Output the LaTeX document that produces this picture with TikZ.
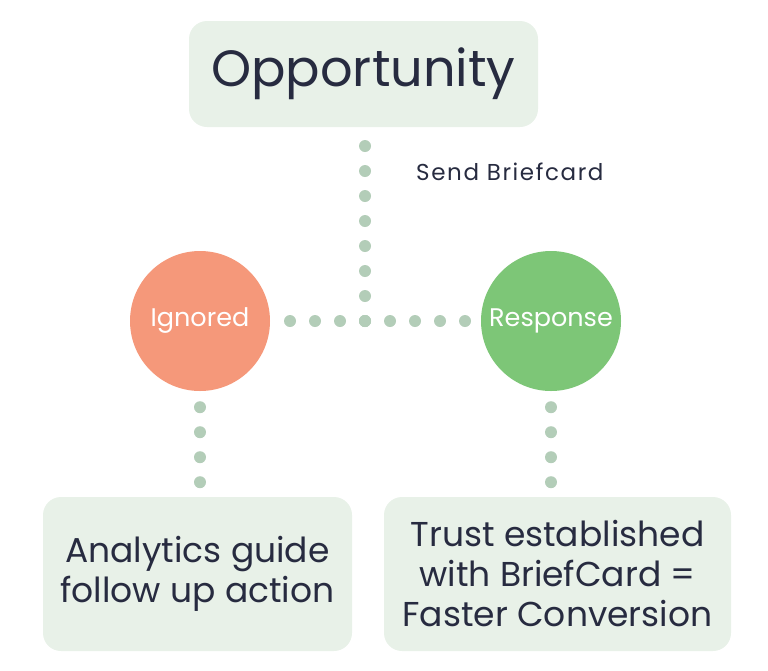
\documentclass[tikz,border=0pt]{standalone}
\usepackage{fontspec}
\setmainfont{Poppins}
\newfontfamily\trackedfont[LetterSpace=7]{Poppins}
\usepackage{tikz}

\definecolor{boxfill}{HTML}{E8F1E8}
\definecolor{inkdark}{HTML}{272B40}
\definecolor{dotgreen}{HTML}{B3CDB8}
\definecolor{ignoredfill}{HTML}{F5987A}
\definecolor{responsefill}{HTML}{7DC677}

\tikzset{
  card/.style={fill=boxfill, rounded corners=18pt, text=inkdark, align=center, inner sep=0pt},
  state/.style={circle, minimum size=140pt, inner sep=0pt, text=white, font=\fontsize{25.5}{30}\selectfont},
  dots/.style={draw=dotgreen, line width=12pt, line cap=round, dash pattern=on 0pt off 25pt}
}

\begin{document}
\begin{tikzpicture}[x=1pt,y=-1pt]
  \useasboundingbox (0,0) rectangle (768,670);

  \node[card, minimum width=349pt, minimum height=106pt, font=\fontsize{51}{56}\selectfont] (opp) at (363.5,74) {Opportunity};

  \node[state, fill=ignoredfill] (ign) at (200,321) {Ignored};
  \node[state, fill=responsefill] (resp) at (551,321) {Response};

  \node[card, minimum width=309pt, minimum height=154pt, font=\fontsize{34.5}{40}\selectfont] (guide) at (197.5,574) {Analytics guide\\follow up action};
  \node[card, minimum width=347pt, minimum height=154pt, font=\fontsize{34.5}{40}\selectfont] (trust) at (557.5,574) {Trust established\\with BriefCard =\\Faster Conversion};

  \coordinate (jn) at (365,321);
  \node[text=inkdark, font=\trackedfont\fontsize{23}{26}\selectfont, anchor=west, inner sep=0pt] (send) at (416,172) {Send Briefcard};

  % dotted connectors
  \draw[dots] (jn) -- (jn |- opp.south);
  \draw[dots] (jn) -- (ign.east);
  \draw[dots] (jn) -- (resp.west);
  \draw[dots, shorten <=16pt] (ign.south) -- (ign.south |- guide.north);
  \draw[dots, shorten <=16pt] (resp.south) -- (resp.south |- trust.north);
\end{tikzpicture}
\end{document}
